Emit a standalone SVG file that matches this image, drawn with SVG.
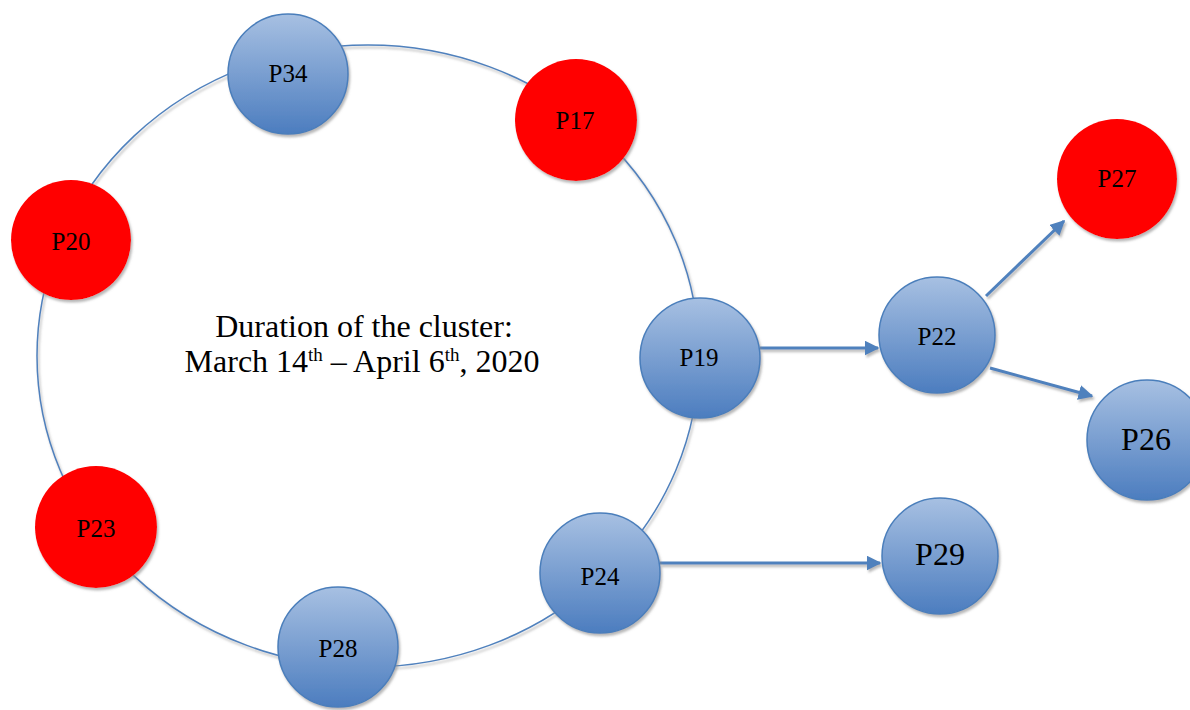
<svg xmlns="http://www.w3.org/2000/svg" width="1190" height="710" viewBox="0 0 1190 710">
<defs>
<linearGradient id="blueGrad" x1="0" y1="0" x2="0" y2="1">
<stop offset="0" stop-color="#a7c0e2"/>
<stop offset="1" stop-color="#4c7dbf"/>
</linearGradient>
<filter id="sh" x="-20%" y="-20%" width="150%" height="150%">
<feDropShadow dx="1.5" dy="2.5" stdDeviation="1" flood-color="#888" flood-opacity="0.6"/>
</filter>
<filter id="shl" filterUnits="userSpaceOnUse" x="0" y="0" width="1190" height="710">
<feDropShadow dx="1.5" dy="2.5" stdDeviation="1" flood-color="#888" flood-opacity="0.6"/>
</filter>
<marker id="arr" viewBox="0 0 10 10" refX="9" refY="5" markerWidth="5" markerHeight="5" orient="auto" markerUnits="strokeWidth">
<path d="M0,0 L10,5 L0,10 z" fill="#4f81bd"/>
</marker>
<style>
.blue{fill:url(#blueGrad);stroke:#4a7ebb;stroke-width:1.5;filter:url(#sh)}
.red{fill:#ff0000;filter:url(#sh)}
.lbl{font-size:25px;fill:#000;text-anchor:middle}
.big{font-size:32px}
.conn{stroke:#4f81bd;stroke-width:3;fill:none;filter:url(#shl)}
.main{font-size:32px;fill:#000;text-anchor:middle}
.sup{font-size:19px}
</style>
</defs>
<g id="cluster-ring">
<ellipse cx="368" cy="356" rx="331" ry="311" fill="none" stroke="#4f81bd" stroke-width="1.5" filter="url(#shl)"/>
</g>
<g id="connectors">
<line class="conn" x1="760" y1="348" x2="878" y2="348" marker-end="url(#arr)"/>
<line class="conn" x1="986" y1="296" x2="1064" y2="221" marker-end="url(#arr)"/>
<line class="conn" x1="990" y1="368" x2="1092" y2="396" marker-end="url(#arr)"/>
<line class="conn" x1="660" y1="563" x2="880" y2="563" marker-end="url(#arr)"/>
</g>
<g font-family="'Liberation Serif', 'Times New Roman', serif">
<g id="label-duration">
<text class="main" x="364" y="337">Duration of the cluster:</text>
<text class="main" x="362" y="372">March 14<tspan class="sup" dy="-11">th</tspan><tspan dy="11"> – April 6</tspan><tspan class="sup" dy="-11">th</tspan><tspan dy="11">, 2020</tspan></text>
</g>
<g id="P34"><circle class="blue" cx="288" cy="74" r="60"/><text class="lbl" x="288" y="82">P34</text></g>
<g id="P17"><circle class="red" cx="576" cy="120" r="61"/><text class="lbl" x="575" y="129">P17</text></g>
<g id="P20"><circle class="red" cx="71" cy="240" r="60"/><text class="lbl" x="71" y="250">P20</text></g>
<g id="P19"><circle class="blue" cx="700" cy="358" r="60"/><text class="lbl" x="699" y="366">P19</text></g>
<g id="P22"><circle class="blue" cx="937" cy="335" r="58"/><text class="lbl" x="937" y="345">P22</text></g>
<g id="P27"><circle class="red" cx="1117" cy="179" r="60"/><text class="lbl" x="1117" y="187">P27</text></g>
<g id="P26"><circle class="blue" cx="1147" cy="440" r="60"/><text class="lbl big" x="1146" y="450">P26</text></g>
<g id="P29"><circle class="blue" cx="940" cy="556" r="58"/><text class="lbl big" x="940" y="565">P29</text></g>
<g id="P24"><circle class="blue" cx="600" cy="573" r="60"/><text class="lbl" x="600" y="585">P24</text></g>
<g id="P28"><circle class="blue" cx="338" cy="647" r="60"/><text class="lbl" x="338" y="657">P28</text></g>
<g id="P23"><circle class="red" cx="96" cy="527" r="61"/><text class="lbl" x="96" y="537">P23</text></g>
</g>
</svg>
